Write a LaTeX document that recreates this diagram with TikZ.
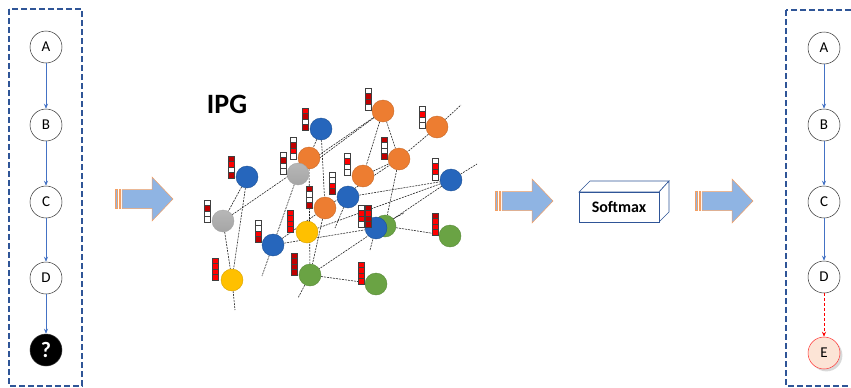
\documentclass[tikz,border=0pt]{standalone}
\usepackage{fontspec}
\setmainfont{Carlito}
\usetikzlibrary{arrows.meta,shadows,backgrounds}
\definecolor{ipgblue}{RGB}{38,102,188}
\definecolor{ipgorange}{RGB}{237,125,49}
\definecolor{ipggreen}{RGB}{106,163,68}
\definecolor{ipgyellow}{RGB}{255,192,0}
\definecolor{ipggray}{RGB}{165,165,165}
\definecolor{panelblue}{RGB}{47,85,151}
\definecolor{linkblue}{RGB}{68,114,196}
\definecolor{arrowfill}{RGB}{143,180,227}
\definecolor{arrowedge}{RGB}{244,160,100}
\definecolor{barR}{RGB}{255,0,0}
\definecolor{barD}{RGB}{192,0,0}
\definecolor{barW}{RGB}{255,255,255}
\definecolor{efill}{RGB}{252,228,214}

% feature bar: x, y, four cells from top to bottom
\newcommand{\featbar}[6]{%
  \foreach \c [count=\i from 0] in {#3,#4,#5,#6}
    \filldraw[draw=black!75, fill=\c, line width=0.4pt] (#1,#2+\i*5.5) rectangle ++(6,5.5);
}
% striped block arrow: left x, middle y
\newcommand{\blockarrow}[2]{%
  \filldraw[fill=arrowfill, draw=arrowedge, line width=0.5pt]
    (#1+7,#2-9.5) -- (#1+37,#2-9.5) -- (#1+37,#2-22) -- (#1+58,#2)
    -- (#1+37,#2+22) -- (#1+37,#2+9.5) -- (#1+7,#2+9.5) -- cycle;
  \filldraw[fill=arrowfill, draw=arrowedge, line width=0.4pt] (#1,#2-9.5) rectangle (#1+2.5,#2+9.5);
  \filldraw[fill=arrowfill, draw=arrowedge, line width=0.4pt] (#1+3.8,#2-9.5) rectangle (#1+5.6,#2+9.5);
}

\begin{document}
\begin{tikzpicture}[x=1pt, y=-1pt,
    panelnode/.style={draw=black!80, circle, fill=white, minimum size=32pt, inner sep=0pt, line width=0.5pt, font=\fontsize{15}{15}\selectfont},
    panelbox/.style={panelblue, dash pattern=on 6pt off 3pt, line width=1.3pt},
    flowarrow/.style={-{Stealth[length=5pt,width=4pt]}, linkblue, line width=0.6pt},
    gnode/.style={circle, minimum size=22pt, inner sep=0pt, line width=0.4pt},
    glink/.style={dash pattern=on 2pt off 1pt, black!85, line width=0.6pt}]
  \useasboundingbox (0,0) rectangle (851,388);
  \clip (0,0) rectangle (851,388);

  % Left panel: the given sequence
  \draw[panelbox] (9,9) rectangle (82,386);
  \node[panelnode] (la) at (46,47) {A};
  \node[panelnode] (lb) at (46,125) {B};
  \node[panelnode] (lc) at (46,202) {C};
  \node[panelnode] (ld) at (46,278) {D};
  \node[panelnode, fill=black, text=white, font=\fontsize{22}{22}\selectfont\bfseries] (lq) at (46,350) {?};
  \draw[flowarrow] (la) -- (lb);
  \draw[flowarrow] (lb) -- (lc);
  \draw[flowarrow] (lc) -- (ld);
  \draw[flowarrow] (ld) -- (lq);

  % Block arrows
  \blockarrow{115}{199}
  \blockarrow{495}{201}
  \blockarrow{695}{201}

  % IPG label
  \node[font=\fontsize{28}{28}\selectfont\bfseries] (ipg) at (227,104) {IPG};

  % IPG nodes
  \node[gnode, fill=ipgblue, draw=ipgblue!80!black] (b1) at (321,129) {};
  \node[gnode, fill=ipgorange, draw=ipgorange!85!black] (o1) at (383,111) {};
  \node[gnode, fill=ipgorange, draw=ipgorange!85!black] (o2) at (437,127) {};
  \node[gnode, fill=ipgorange, draw=ipgorange!85!black] (o3) at (309,158) {};
  \node[gnode, fill=ipgorange, draw=ipgorange!85!black] (o4) at (399,159) {};
  \node[gnode, fill=ipgorange, draw=ipgorange!85!black] (o5) at (363,176) {};
  \node[gnode, fill=ipgblue, draw=ipgblue!80!black] (b2) at (451,180) {};
  \node[gnode, fill=ipgblue, draw=ipgblue!80!black] (b3) at (348,197) {};
  \node[gnode, fill=ipgorange, draw=ipgorange!85!black] (o6) at (325,208) {};
  \node[gnode, fill=ipgyellow, draw=ipgyellow!85!black] (y1) at (307,232) {};
  \node[gnode, fill=ipggreen, draw=ipggreen!85!black] (g1) at (385,226) {};
  \node[gnode, fill=ipgblue, draw=ipgblue!80!black] (b4) at (376,228) {};
  \node[gnode, fill=ipggreen, draw=ipggreen!85!black] (g2) at (450,236) {};
  \node[gnode, fill=ipggreen, draw=ipggreen!85!black] (g3) at (310,275) {};
  \node[gnode, fill=ipggreen, draw=ipggreen!85!black] (g4) at (376,284) {};
  \node[gnode, fill=ipgblue, draw=ipgblue!80!black] (b5) at (247,177) {};
  \node[gnode, top color=ipggray!80, bottom color=ipggray, draw=ipggray] (gr1) at (298,174) {};
  \node[gnode, top color=ipggray!80, bottom color=ipggray, draw=ipggray] (gr2) at (223,221) {};
  \node[gnode, fill=ipgblue, draw=ipgblue!80!black] (b6) at (273,245) {};
  \node[gnode, fill=ipgyellow, draw=ipgyellow!85!black] (y2) at (232,280) {};

  % loose ends
  \coordinate (y2end) at (235,310);
  \coordinate (o2end) at (461,105);
  \coordinate (b2end) at (477,164);
  \coordinate (b3end) at (335,228);
  \coordinate (b4up) at (404,213);
  \coordinate (b4down) at (370,250);
  \coordinate (b6end) at (262,276);
  \coordinate (g3end) at (298,298);

  % IPG links
  \begin{scope}[on background layer]
    \draw[glink] (b5) -- (gr2);
    \draw[glink] (b5) -- (y2);
    \draw[glink] (gr2) -- (y2);
    \draw[glink] (y2) -- (y2end);
    \draw[glink] (gr2) -- (o1);
    \draw[glink] (gr1) -- (o1);
    \draw[glink] (gr1) -- (b6);
    \draw[glink] (b1) -- (o3);
    \draw[glink] (b1) -- (o6);
    \draw[glink] (o3) -- (g3);
    \draw[glink] (o1) -- (o5);
    \draw[glink] (o1) -- (o4);
    \draw[glink] (o2) -- (o4);
    \draw[glink] (o2) -- (o2end);
    \draw[glink] (o5) -- (o4);
    \draw[glink] (o6) -- (o4);
    \draw[glink] (o4) -- (g1);
    \draw[glink] (b3) -- (b2);
    \draw[glink] (b3) -- (b3end);
    \draw[glink] (b2) -- (b2end);
    \draw[glink] (b2) -- (g3);
    \draw[glink] (b2) -- (y1);
    \draw[glink] (g1) -- (g2);
    \draw[glink] (b4down) -- (b4) -- (b4up);
    \draw[glink] (b6) -- (b4);
    \draw[glink] (b6) -- (o6);
    \draw[glink] (b6) -- (b6end);
    \draw[glink] (g3) -- (g3end);
    \draw[glink] (g3) -- (g4);
    \draw[glink] (o6) -- (g3);
  \end{scope}

  % feature bars
  \featbar{302}{108}{barR}{barD}{barW}{barD}
  \featbar{290}{137}{barW}{barD}{barR}{barW}
  \featbar{280}{152}{barW}{barD}{barW}{barW}
  \featbar{228}{156}{barD}{barR}{barW}{barD}
  \featbar{329}{172}{barW}{barW}{barR}{barD}
  \featbar{306}{186}{barD}{barW}{barW}{barD}
  \featbar{204}{200}{barW}{barD}{barW}{barW}
  \featbar{255}{220}{barW}{barW}{barR}{barD}
  \featbar{212}{258}{barR}{barR}{barR}{barR}
  \featbar{287}{210}{barR}{barR}{barR}{barR}
  \featbar{291}{253}{barD}{barD}{barD}{barD}
  \featbar{365}{88}{barW}{barD}{barD}{barW}
  \featbar{419}{106}{barW}{barR}{barW}{barW}
  \featbar{381}{137}{barD}{barW}{barW}{barD}
  \featbar{344}{153}{barW}{barR}{barW}{barW}
  \featbar{432}{158}{barW}{barR}{barR}{barW}
  \featbar{358}{205}{barW}{barR}{barR}{barW}
  \featbar{365}{205}{barD}{barR}{barD}{barD}
  \featbar{432}{213}{barD}{barR}{barR}{barR}
  \featbar{358}{262}{barR}{barR}{barR}{barR}

  % Softmax box
  \filldraw[fill=white, draw=panelblue, line width=0.6pt] (579,192) -- (590,181) -- (669,181) -- (659,192) -- cycle;
  \filldraw[fill=white, draw=panelblue, line width=0.6pt] (659,192) -- (669,181) -- (669,212) -- (659,222) -- cycle;
  \draw[panelblue, line width=0.6pt, fill=white] (579,192) rectangle (659,222);
  \node[font=\fontsize{16}{16}\selectfont\bfseries] (softmax) at (619,207) {Softmax};

  % Right panel: predicted sequence
  \draw[panelbox] (786,10) rectangle (870,386);
  \node[panelnode] (ra) at (824,48) {A};
  \node[panelnode] (rb) at (824,125) {B};
  \node[panelnode] (rc) at (824,202) {C};
  \node[panelnode] (rd) at (824,277) {D};
  \node[panelnode, fill=efill, draw=red!80, drop shadow={opacity=0.3}] (re) at (824,353) {E};
  \draw[flowarrow] (ra) -- (rb);
  \draw[flowarrow] (rb) -- (rc);
  \draw[flowarrow] (rc) -- (rd);
  \draw[flowarrow, red, densely dashed] (rd) -- (re);
\end{tikzpicture}
\end{document}
